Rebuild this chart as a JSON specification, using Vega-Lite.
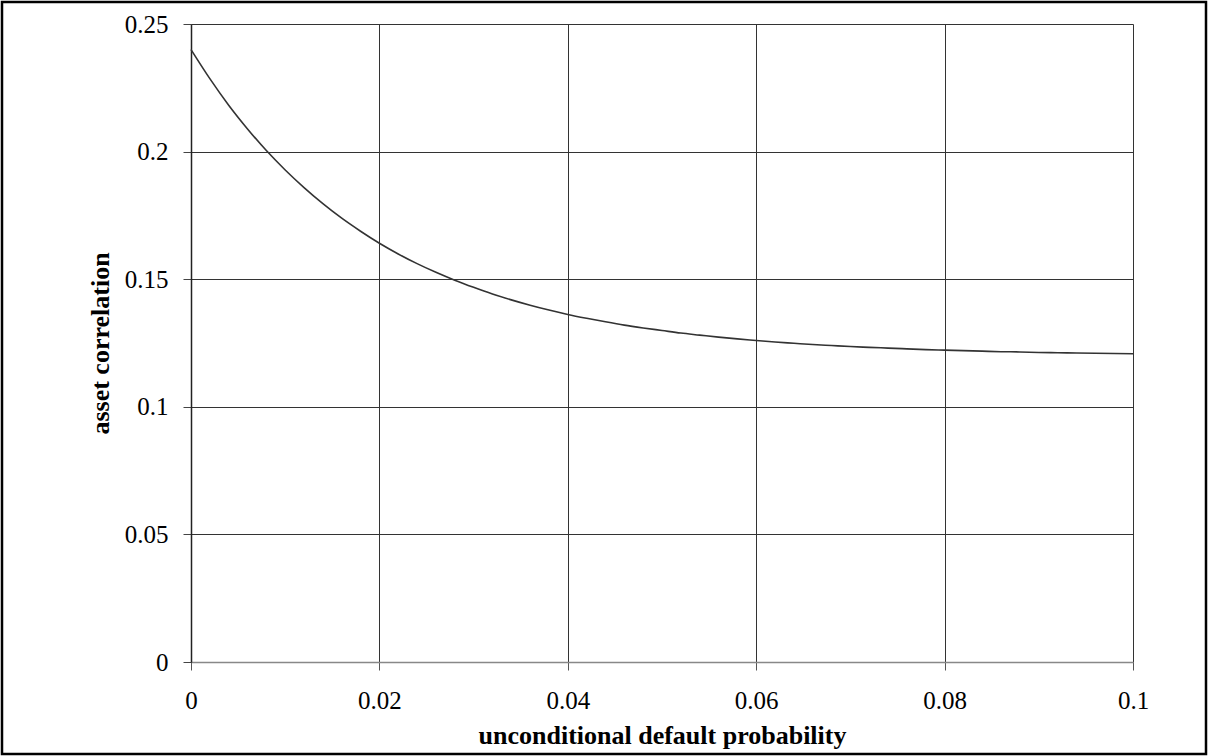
{
  "$schema": "https://vega.github.io/schema/vega-lite/v6.json",
  "width": 1204,
  "height": 752,
  "autosize": "none",
  "padding": 2,
  "background": "white",
  "data": {
    "values": [
      {"pd": 0.000, "rho": 0.2400}, {"pd": 0.002, "rho": 0.2286}, {"pd": 0.004, "rho": 0.2182},
      {"pd": 0.006, "rho": 0.2089}, {"pd": 0.008, "rho": 0.2004}, {"pd": 0.010, "rho": 0.1928},
      {"pd": 0.012, "rho": 0.1859}, {"pd": 0.014, "rho": 0.1796}, {"pd": 0.016, "rho": 0.1739},
      {"pd": 0.018, "rho": 0.1688}, {"pd": 0.020, "rho": 0.1641}, {"pd": 0.022, "rho": 0.1599},
      {"pd": 0.024, "rho": 0.1561}, {"pd": 0.026, "rho": 0.1527}, {"pd": 0.028, "rho": 0.1496},
      {"pd": 0.030, "rho": 0.1468}, {"pd": 0.032, "rho": 0.1442}, {"pd": 0.034, "rho": 0.1419},
      {"pd": 0.036, "rho": 0.1398}, {"pd": 0.038, "rho": 0.1379}, {"pd": 0.040, "rho": 0.1362},
      {"pd": 0.042, "rho": 0.1347}, {"pd": 0.044, "rho": 0.1333}, {"pd": 0.046, "rho": 0.1320},
      {"pd": 0.048, "rho": 0.1309}, {"pd": 0.050, "rho": 0.1299}, {"pd": 0.052, "rho": 0.1289},
      {"pd": 0.054, "rho": 0.1281}, {"pd": 0.056, "rho": 0.1273}, {"pd": 0.058, "rho": 0.1266},
      {"pd": 0.060, "rho": 0.1260}, {"pd": 0.062, "rho": 0.1254}, {"pd": 0.064, "rho": 0.1249},
      {"pd": 0.066, "rho": 0.1244}, {"pd": 0.068, "rho": 0.1240}, {"pd": 0.070, "rho": 0.1236},
      {"pd": 0.072, "rho": 0.1233}, {"pd": 0.074, "rho": 0.1230}, {"pd": 0.076, "rho": 0.1227},
      {"pd": 0.078, "rho": 0.1224}, {"pd": 0.080, "rho": 0.1222}, {"pd": 0.082, "rho": 0.1220},
      {"pd": 0.084, "rho": 0.1218}, {"pd": 0.086, "rho": 0.1216}, {"pd": 0.088, "rho": 0.1215},
      {"pd": 0.090, "rho": 0.1213}, {"pd": 0.092, "rho": 0.1212}, {"pd": 0.094, "rho": 0.1211},
      {"pd": 0.096, "rho": 0.1210}, {"pd": 0.098, "rho": 0.1209}, {"pd": 0.100, "rho": 0.1208}
    ]
  },
  "layer": [
    {
      "mark": {"type": "line", "strokeOpacity": 0},
      "encoding": {
        "x": {
          "field": "pd",
          "type": "quantitative",
          "axis": {
            "orient": "top",
            "values": [0, 0.02, 0.04, 0.06, 0.08, 0.1],
            "title": null,
            "labels": false,
            "ticks": false,
            "domain": false,
            "grid": true,
            "gridColor": "#333333",
            "gridOpacity": 1,
            "gridWidth": 1
          }
        },
        "y": {"field": "rho", "type": "quantitative"}
      }
    },
    {
      "mark": {"type": "line", "color": "#333333", "strokeWidth": 1.6, "interpolate": "monotone"},
      "encoding": {
        "x": {
          "field": "pd",
          "type": "quantitative",
          "scale": {"domain": [0, 0.1], "nice": false, "zero": false, "range": [189, 1131]},
          "axis": {
            "orient": "bottom",
            "offset": -92,
            "title": "unconditional default probability",
            "values": [0, 0.02, 0.04, 0.06, 0.08, 0.1],
            "format": "~g",
            "grid": false,
            "domainColor": "#888888",
            "domainWidth": 1.5,
            "tickColor": "#555555",
            "tickSize": 8,
            "tickWidth": 1,
            "labelFont": "Liberation Serif",
            "labelFontSize": 25,
            "labelColor": "black",
            "labelPadding": 18,
            "labelFlush": false,
            "titleFont": "Liberation Serif",
            "titleFontSize": 26,
            "titleFontWeight": "bold",
            "titleColor": "black",
            "titleAlign": "center",
            "titleBaseline": "alphabetic",
            "titleX": 660,
            "titleY": 81
          }
        },
        "y": {
          "field": "rho",
          "type": "quantitative",
          "scale": {"domain": [0, 0.25], "nice": false, "range": [660, 22]},
          "axis": {
            "orient": "left",
            "offset": -189,
            "title": "asset correlation",
            "values": [0, 0.05, 0.1, 0.15, 0.2, 0.25],
            "format": "~g",
            "grid": true,
            "gridColor": "#333333",
            "gridOpacity": 1,
            "gridWidth": 1,
            "domainColor": "#222222",
            "domainWidth": 1.5,
            "tickColor": "#444444",
            "tickSize": 8,
            "tickWidth": 1,
            "labelFont": "Liberation Serif",
            "labelFontSize": 25,
            "labelColor": "black",
            "labelPadding": 15,
            "labelFlush": false,
            "titleFont": "Liberation Serif",
            "titleFontSize": 26,
            "titleFontWeight": "bold",
            "titleColor": "black",
            "titleAngle": -90,
            "titleAlign": "center",
            "titleBaseline": "alphabetic",
            "titleX": -83,
            "titleY": 341
          }
        }
      }
    }
  ],
  "resolve": {"axis": {"x": "independent"}},
  "config": {
    "view": {"stroke": "black", "strokeWidth": 2.5}
  }
}
